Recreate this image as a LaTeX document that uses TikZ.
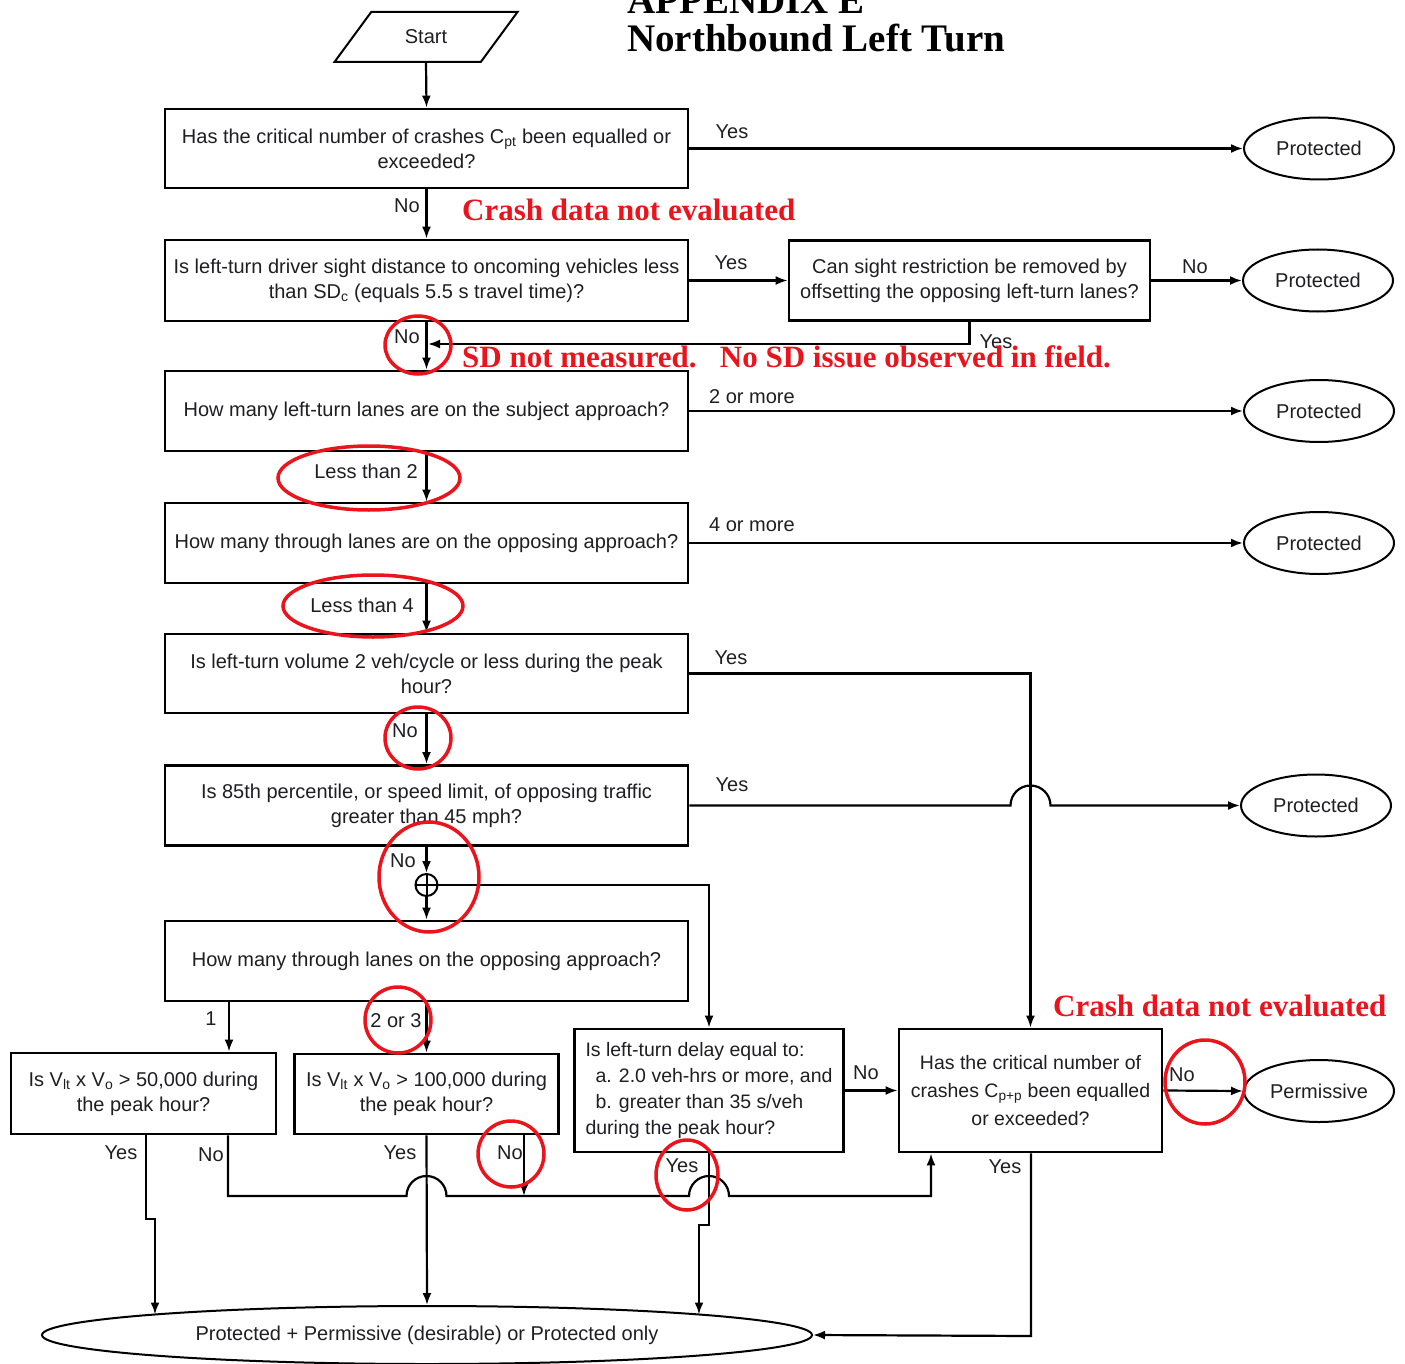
\documentclass[tikz,border=0pt]{standalone}
\usepackage{fontspec}
\setmainfont{Liberation Sans}
\newfontfamily\annfont{Liberation Serif}
\usetikzlibrary{shapes.geometric,arrows.meta,calc}
\definecolor{annred}{RGB}{235,20,28}
\definecolor{ink}{RGB}{30,30,35}
\tikzset{
  fc/.style={font=\fontsize{20}{25}\selectfont, text=ink},
  box/.style={fc, draw, line width=2.8pt, rectangle, align=center, inner sep=4pt},
  term/.style={fc, draw, line width=2pt, ellipse, inner sep=0pt, minimum width=150pt, minimum height=62pt},
  conn/.style={line width=2.2pt},
  arr/.style={conn, -{Latex[length=12pt,width=9pt]}},
  lbl/.style={fc, inner sep=0pt},
  redc/.style={draw=annred, line width=3.5pt, ellipse, inner sep=0pt},
  redt/.style={font=\annfont\bfseries\fontsize{31}{36}\selectfont, text=annred, inner sep=0pt, anchor=west},
  ttl/.style={font=\annfont\bfseries\fontsize{39}{39}\selectfont, text=black, inner sep=0pt, anchor=base west},
}
\begin{document}
\begin{tikzpicture}[x=1pt,y=-1pt]
\useasboundingbox (0,0) rectangle (1405,1364);

% title
\node[ttl] (t1) at (627,14) {APPENDIX E};
\node[ttl] (t2) at (627,52) {Northbound Left Turn};

% start
\node[fc, draw, line width=2pt, trapezium, trapezium left angle=45, trapezium right angle=135,
      trapezium stretches=true, minimum width=184pt, minimum height=50pt, inner sep=0pt] (start) at (426,37) {Start};

% boxes
\node[box, minimum width=523pt, minimum height=79pt] (b1) at (426.5,148.5)
  {Has the critical number of crashes C\textsubscript{pt} been equalled or\\exceeded?};
\node[box, minimum width=523pt, minimum height=81pt] (b2) at (426.5,280.5)
  {Is left-turn driver sight distance to oncoming vehicles less\\than SD\textsubscript{c} (equals 5.5 s travel time)?};
\node[box, minimum width=361pt, minimum height=80pt] (b3) at (969.5,280.5)
  {Can sight restriction be removed by\\offsetting the opposing left-turn lanes?};
\node[box, minimum width=523pt, minimum height=80pt] (b4) at (426.5,411)
  {How many left-turn lanes are on the subject approach?};
\node[box, minimum width=523pt, minimum height=80pt] (b5) at (426.5,543)
  {How many through lanes are on the opposing approach?};
\node[box, minimum width=523pt, minimum height=79pt] (b6) at (426.5,673.5)
  {Is left-turn volume 2 veh/cycle or less during the peak\\hour?};
\node[box, minimum width=523pt, minimum height=80pt] (b7) at (426.5,805.5)
  {Is 85th percentile, or speed limit, of opposing traffic\\greater than 45 mph?};
\node[box, minimum width=523pt, minimum height=80pt] (b8) at (426.5,961)
  {How many through lanes on the opposing approach?};
\node[box, minimum width=269pt, minimum height=123pt, align=left, font=\fontsize{19.5}{26}\selectfont] (b9) at (709,1090.5)
  {Is left-turn delay equal to:\\\hspace*{10pt}a. 2.0 veh-hrs or more, and\\\hspace*{10pt}b. greater than 35 s/veh\\during the peak hour?};
\node[box, minimum width=263pt, minimum height=123pt, font=\fontsize{19.5}{28}\selectfont] (b10) at (1030.5,1090.5)
  {Has the critical number of\\crashes C\textsubscript{p+p} been equalled\\or exceeded?};
\node[box, minimum width=265pt, minimum height=81pt] (b11) at (143.5,1093.5)
  {Is V\textsubscript{lt} x V\textsubscript{o} > 50,000 during\\the peak hour?};
\node[box, minimum width=264pt, minimum height=80pt] (b12) at (426.5,1094)
  {Is V\textsubscript{lt} x V\textsubscript{o} > 100,000 during\\the peak hour?};

% terminals
\node[term] (e1) at (1319,148.5) {Protected};
\node[term] (e2) at (1318,280.5) {Protected};
\node[term] (e3) at (1319,411) {Protected};
\node[term] (e4) at (1319,543) {Protected};
\node[term] (e5) at (1316,805.5) {Protected};
\node[term] (e6) at (1319,1091) {Permissive};
\node[term, minimum width=770pt, minimum height=58pt] (big) at (427,1335)
  {Protected + Permissive (desirable) or Protected only};

% junction
\node[draw, circle, line width=2pt, minimum size=22pt, inner sep=0pt] (j) at (426.5,885) {};
\draw[line width=2pt] (j.north) -- (j.south) (j.west) -- (j.east);

% coordinates
\coordinate (m2) at (428,344);
\coordinate (x11) at (229,0);
\coordinate (y11) at (146,1219);
\coordinate (y11b) at (155,1314.5);
\coordinate (nL) at (228,1196);
\coordinate (n12) at (524,0);
\coordinate (x10) at (931,0);
\coordinate (y9) at (709,1225);
\coordinate (y9b) at (699,1314.5);
\coordinate (y10) at (1031,1336);

% connectors
\draw[arr] (start.south) -- (b1.north);
\draw[arr] (b1.east) -- (e1.west);
\draw[arr] (b1.south) -- (b2.north);
\draw[arr] (b2.east) -- (b3.west);
\draw[arr] (b3.east) -- (e2.west);
\draw[arr] (b3.south) |- (m2);
\draw[arr] (b2.south) -- (b4.north);
\draw[arr] (b4.east) -- (e3.west);
\draw[arr] (b4.south) -- (b5.north);
\draw[arr] (b5.east) -- (e4.west);
\draw[arr] (b5.south) -- (b6.north);
\draw[arr] (b6.east) -| (b10.north);
\draw[arr] (b6.south) -- (b7.north);
\draw[arr] (b7.east) -- ($(b7.east -| b10.north)+(-20,0)$) arc[start angle=180, end angle=360, radius=20] -- (e5.west);
\draw[arr] (b7.south) -- (j.north);
\draw[arr] (j.south) -- (b8.north);
\draw[arr] (j.east) -| (b9.north);
\draw[arr] (b8.south -| x11) -- (b11.north -| x11);
\draw[arr] (b8.south) -- (b12.north);
\draw[arr] (b9.east) -- (b10.west);
\draw[arr] (b10.east) -- (e6.west);
% bottom
\draw[arr] (b11.south -| y11) -- (y11) -- (y11 -| y11b) -- (y11b);
\draw[arr] (b11.south -| nL) -- (nL) -- ($(nL -| b12.south)+(-20,0)$) arc[start angle=180, end angle=360, radius=20]
   -- ($(nL -| b9.south)+(-20,0)$) arc[start angle=180, end angle=360, radius=20]
   -- (nL -| x10) -- (b10.south -| x10);
\draw[arr] (b12.south -| n12) -- (nL -| n12);
\draw[arr] (b12.south) -- (big.north);
\draw[arr] (b9.south) -- (y9) -- (y9 -| y9b) -- (y9b);
\draw[arr] (b10.south -| y10) -- (y10) -- (big.east);

% labels
\node[lbl] (l1) at (732,132) {Yes};
\node[lbl] (l2) at (407,206) {No};
\node[lbl] (l3) at (731,263) {Yes};
\node[lbl] (l4) at (1195,267) {No};
\node[lbl] (l5) at (996,342) {Yes};
\node[lbl] (l6) at (407,337) {No};
\node[lbl] (l7) at (752,397) {2 or more};
\node[lbl] (l8) at (366,471) {Less than 2};
\node[lbl] (l9) at (752,525) {4 or more};
\node[lbl] (l10) at (362,605) {Less than 4};
\node[lbl] (l11) at (731,658) {Yes};
\node[lbl] (l12) at (405,731) {No};
\node[lbl] (l13) at (732,785) {Yes};
\node[lbl] (l14) at (403,861) {No};
\node[lbl] (l15) at (211,1019) {1};
\node[lbl] (l16) at (396,1021) {2 or 3};
\node[lbl] (l17) at (866,1073) {No};
\node[lbl] (l18) at (1182,1075) {No};
\node[lbl] (l19) at (121,1153) {Yes};
\node[lbl] (l20) at (211,1155) {No};
\node[lbl] (l21) at (400,1153) {Yes};
\node[lbl] (l22) at (510,1153) {No};
\node[lbl] (l23) at (682,1166) {Yes};
\node[lbl] (l24) at (1005,1167) {Yes};

% red annotations
\node[redt] (r1) at (462,210) {Crash data not evaluated};
\node[redt] (r2) at (462,357) {SD not measured.\hspace{0.75em}No SD issue observed in field.};
\node[redt] (r3) at (1053,1006) {Crash data not evaluated};
\node[redc, minimum width=66pt, minimum height=58pt] (c1) at (418,345) {};
\node[redc, minimum width=182pt, minimum height=64pt] (c2) at (369,478) {};
\node[redc, minimum width=180pt, minimum height=62pt] (c3) at (373,606) {};
\node[redc, minimum width=66pt, minimum height=62pt] (c4) at (418,738) {};
\node[redc, minimum width=100pt, minimum height=110pt] (c5) at (429,877) {};
\node[redc, minimum width=66pt, minimum height=66pt] (c6) at (398,1020) {};
\node[redc, minimum width=66pt, minimum height=66pt] (c7) at (511,1154) {};
\node[redc, minimum width=62pt, minimum height=70pt] (c8) at (687,1175) {};
\node[redc, minimum width=80pt, minimum height=84pt] (c9) at (1205,1082) {};
\end{tikzpicture}
\end{document}
